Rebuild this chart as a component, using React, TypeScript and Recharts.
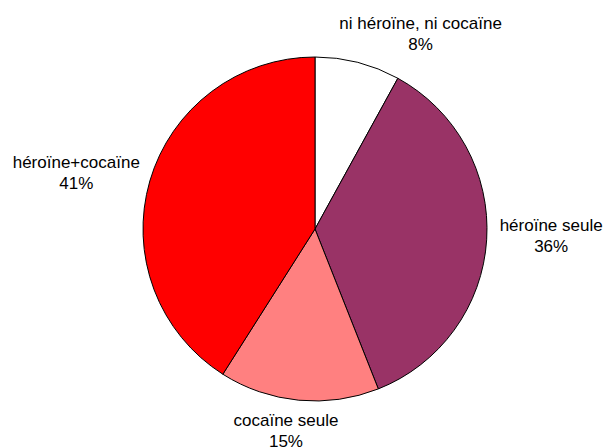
import { PieChart, Pie, Cell } from "recharts";

// slices, clockwise from 12 o'clock
const categories = [
  "ni héroïne, ni cocaïne",
  "héroïne seule",
  "cocaïne seule",
  "héroïne+cocaïne",
];
const shares = [8, 36, 15, 41];
const colors = ["#FFFFFF", "#993366", "#FF8080", "#FF0000"];

const data = categories.map((name, i) => ({ name, value: shares[i] }));

// small nudges so labels sit where the original put them
const nudge = [
  [50, 21],
  [13, -8],
  [-8, -22],
  [-24, 5],
];

const RADIAN = Math.PI / 180;

function renderLabel(props: any) {
  const { cx, cy, midAngle, outerRadius, index } = props;
  const r = outerRadius * 1.3;
  const x = cx + r * Math.cos(-midAngle * RADIAN) + nudge[index][0];
  const y = cy + r * Math.sin(-midAngle * RADIAN) + nudge[index][1];
  return (
    <text
      x={x}
      y={y}
      textAnchor="middle"
      fill="#000"
      fontSize={17}
      fontFamily="'Liberation Sans', Arial, sans-serif"
    >
      <tspan x={x} y={y - 4}>
        {categories[index]}
      </tspan>
      <tspan x={x} y={y + 17}>
        {shares[index]}%
      </tspan>
    </text>
  );
}

export default function App() {
  return (
    <div style={{ position: "fixed", left: 0, top: 0, background: "#fff" }}>
      <PieChart
        width={606}
        height={447}
        margin={{ top: 0, right: 0, bottom: 0, left: 0 }}
      >
        <Pie
          data={data}
          dataKey="value"
          nameKey="name"
          cx={315}
          cy={229}
          outerRadius={172}
          startAngle={90}
          endAngle={-270}
          stroke="#000"
          strokeWidth={1}
          label={renderLabel}
          labelLine={false}
          isAnimationActive={false}
        >
          {data.map((d, i) => (
            <Cell key={d.name} fill={colors[i]} />
          ))}
        </Pie>
      </PieChart>
    </div>
  );
}
